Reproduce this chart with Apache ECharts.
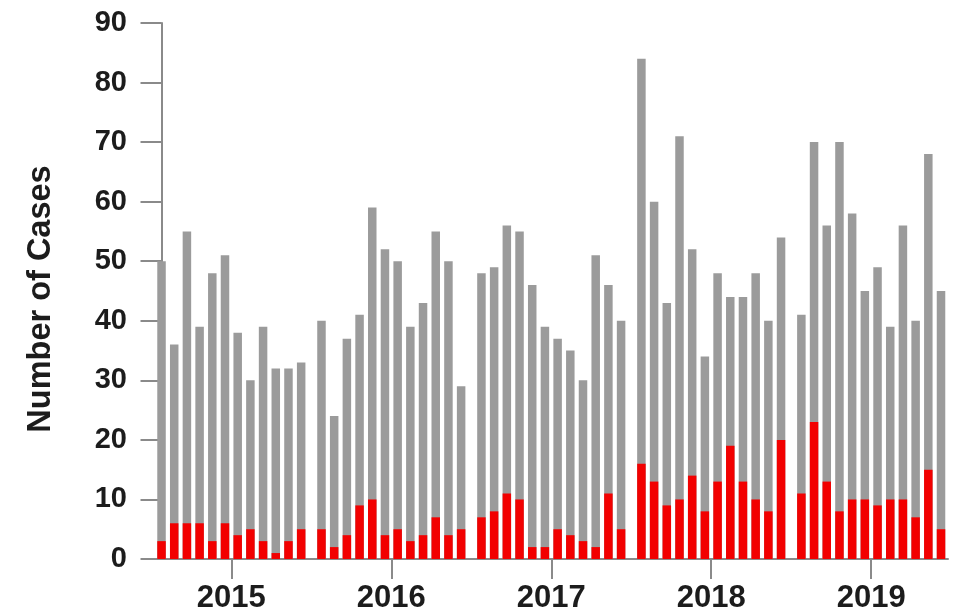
<!DOCTYPE html>
<html>
<head>
<meta charset="utf-8">
<script src="https://cdn.jsdelivr.net/npm/echarts@6/dist/echarts.min.js"></script>
<style>
  html, body { margin: 0; padding: 0; background: #ffffff; }
  #chart { width: 955px; height: 614px; }
</style>
</head>
<body>
<div id="chart"></div>
<script>
// Monthly case counts, January to December, one row per year
const years = ['2015', '2016', '2017', '2018', '2019'];

const totalCases2015 = [50, 36, 55, 39, 48, 51, 38, 30, 39, 32, 32, 33];
const totalCases2016 = [40, 24, 37, 41, 59, 52, 50, 39, 43, 55, 50, 29];
const totalCases2017 = [48, 49, 56, 55, 46, 39, 37, 35, 30, 51, 46, 40];
const totalCases2018 = [84, 60, 43, 71, 52, 34, 48, 44, 44, 48, 40, 54];
const totalCases2019 = [41, 70, 56, 70, 58, 45, 49, 39, 56, 40, 68, 45];

const redCases2015 = [3, 6, 6, 6, 3, 6, 4, 5, 3, 1, 3, 5];
const redCases2016 = [5, 2, 4, 9, 10, 4, 5, 3, 4, 7, 4, 5];
const redCases2017 = [7, 8, 11, 10, 2, 2, 5, 4, 3, 2, 11, 5];
const redCases2018 = [16, 13, 9, 10, 14, 8, 13, 19, 13, 10, 8, 20];
const redCases2019 = [11, 23, 13, 8, 10, 10, 9, 10, 10, 7, 15, 5];

const yTicks = [0, 10, 20, 30, 40, 50, 60, 70, 80, 90];

const totalByYear = [totalCases2015, totalCases2016, totalCases2017, totalCases2018, totalCases2019];
const redByYear = [redCases2015, redCases2016, redCases2017, redCases2018, redCases2019];

// Months sit one unit apart; each year block is followed by a small gap
const YEAR_SPAN = 12.6;
const slot = (y, m) => y * YEAR_SPAN + m;

const toPoints = rows => rows.flatMap((row, y) => row.map((v, m) => [slot(y, m), v]));
const yearCentres = years.map((_, y) => slot(y, 5.5));

const FONT = '"Liberation Sans", Arial, Helvetica, sans-serif';
const AXIS_GREY = '#8a8a8a';
const TEXT = '#1c1c1c';

const chart = echarts.init(document.getElementById('chart'), null, { renderer: 'canvas' });

chart.setOption({
  animation: false,
  backgroundColor: '#ffffff',
  grid: { left: 152, right: 7, top: 23, bottom: 54, containLabel: false },
  xAxis: {
    type: 'value',
    min: slot(0, -0.75),
    max: slot(4, 11.55),
    splitLine: { show: false },
    axisLine: { show: true, onZero: false, lineStyle: { color: AXIS_GREY, width: 2 } },
    axisTick: {
      show: true, length: 20, inside: false,
      customValues: yearCentres,
      lineStyle: { color: AXIS_GREY, width: 2 }
    },
    axisLabel: {
      customValues: yearCentres,
      margin: 24,
      formatter: v => {
        const i = yearCentres.findIndex(c => Math.abs(c - v) < 0.01);
        return i >= 0 ? years[i] : '';
      },
      color: TEXT, fontFamily: FONT, fontWeight: 'bold', fontSize: 31
    }
  },
  yAxis: {
    type: 'value',
    min: yTicks[0],
    max: yTicks[yTicks.length - 1],
    interval: yTicks[1] - yTicks[0],
    name: 'Number of Cases',
    nameLocation: 'middle',
    nameRotate: 90,
    nameGap: 94,
    nameTextStyle: { color: TEXT, fontFamily: FONT, fontWeight: 'bold', fontSize: 32.5, padding: [0, 16, 0, 0] },
    splitLine: { show: false },
    axisLine: { show: true, lineStyle: { color: AXIS_GREY, width: 2 } },
    axisTick: { show: true, length: 21, lineStyle: { color: AXIS_GREY, width: 2 } },
    axisLabel: {
      margin: 25,
      color: TEXT, fontFamily: FONT, fontWeight: 'bold', fontSize: 29
    }
  },
  series: [
    {
      name: 'Total',
      type: 'bar',
      data: toPoints(totalByYear),
      barWidth: 8.5,
      barGap: '-100%',
      itemStyle: { color: '#9b9b9b' }
    },
    {
      name: 'Red',
      type: 'bar',
      data: toPoints(redByYear),
      barWidth: 8.5,
      barGap: '-100%',
      itemStyle: { color: '#f20000' }
    }
  ]
});
</script>
</body>
</html>
